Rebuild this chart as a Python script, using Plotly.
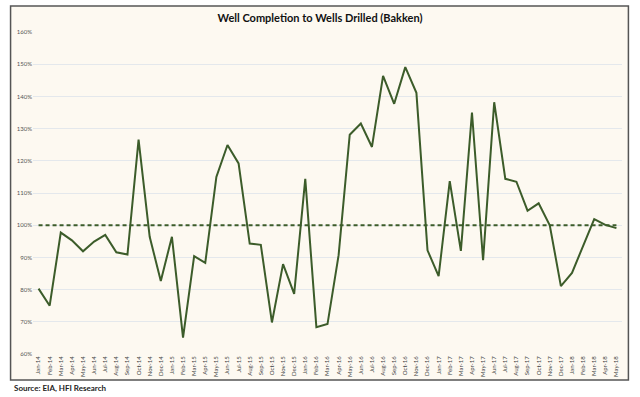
import plotly.graph_objects as go

months = ["Jan", "Feb", "Mar", "Apr", "May", "Jun", "Jul", "Aug", "Sep", "Oct", "Nov", "Dec"]
categories = [f"{m}-{y}" for y in ["14", "15", "16", "17", "18"] for m in months][:53]

ratio = [
    80.3, 75.0, 97.7, 95.3, 91.9, 94.9, 97.0, 91.6, 90.9, 126.6, 96.4, 82.7,
    96.4, 65.1, 90.4, 88.3, 115.0, 124.9, 119.2, 94.3, 93.9, 69.8, 87.9, 78.7,
    114.4, 68.3, 69.3, 90.7, 128.1, 131.6, 124.3, 146.4, 137.7, 149.1, 141.1, 92.2,
    84.2, 113.7, 92.0, 135.0, 89.1, 138.2, 114.4, 113.5, 104.5, 106.8, 100.0, 81.1,
    85.2, 93.5, 101.9, 100.1, 99.1,
]
baseline = [100.0] * len(categories)

y_ticks = [60, 70, 80, 90, 100, 110, 120, 130, 140, 150, 160]
y_labels = [f"{v}%" for v in y_ticks]

W, H = 640, 397
ml, mr, mt, mb = 33.4, 18.4, 32, 43
pw, ph = W - ml - mr, H - mt - mb

def px2paper_x(px):
    return (px - ml) / pw

def px2paper_y(py):
    return (H - mb - py) / ph

green = "#3c5c2a"

fig = go.Figure()
fig.add_trace(go.Scatter(
    x=categories, y=ratio, mode="lines",
    line=dict(color=green, width=2), hoverinfo="x+y", showlegend=False,
))
fig.add_trace(go.Scatter(
    x=categories, y=baseline, mode="lines",
    line=dict(color=green, width=2, dash="4px,3px"), showlegend=False,
))

fig.update_layout(
    width=W, height=H,
    margin=dict(l=ml, r=mr, t=mt, b=mb, pad=0),
    paper_bgcolor="white",
    plot_bgcolor="#fdf9f1",
    font=dict(family="Lato, Open Sans, sans-serif", color="#333"),
    title=dict(
        text="<b>Well Completion to Wells Drilled (Bakken)</b>",
        x=0.5, xanchor="center", y=1 - 18 / H, yanchor="middle",
        font=dict(size=11, color="#111"),
    ),
    xaxis=dict(
        type="category", range=[-0.5, len(categories) - 0.5],
        tickangle=-90, tickfont=dict(size=6, color="#444"),
        showgrid=False, showline=False, zeroline=False,
        ticks="", ticklen=0,
    ),
    yaxis=dict(
        range=[60, 160], tickvals=y_ticks, ticktext=y_labels,
        tickfont=dict(size=6, color="#555"),
        showgrid=True, gridcolor="#e4e8ec", gridwidth=1,
        zeroline=False, showline=False, ticks="", ticklen=0,
    ),
    shapes=[
        dict(type="rect", xref="paper", yref="paper",
             x0=px2paper_x(11), x1=px2paper_x(628),
             y0=px2paper_y(380), y1=px2paper_y(6),
             line=dict(color="#555", width=1.5), fillcolor="#fdf9f1", layer="below"),
    ],
    annotations=[
        dict(text="<b>Source: EIA, HFI Research</b>", xref="paper", yref="paper",
             x=px2paper_x(12), y=px2paper_y(388), xanchor="left", yanchor="middle",
             showarrow=False, font=dict(size=8, color="#222")),
    ],
)

fig.write_html(
    "out.html",
    config={"displayModeBar": False},
    post_script="document.body.style.margin='0';document.body.style.overflow='hidden';",
)
